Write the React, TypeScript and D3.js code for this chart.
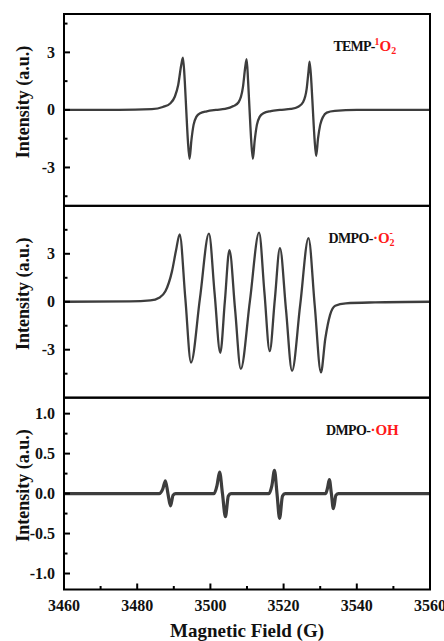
import React from "react";
import * as d3 from "d3";

// ---------- data ----------
const fieldDomain = [3460, 3560];
const fieldTicks = [3460, 3480, 3500, 3520, 3540, 3560];
const fieldMinorTicks = [3470, 3490, 3510, 3530, 3550];

// TEMP-1O2 spectrum
const tempField = [
  3460, 3475, 3484, 3487, 3489.1, 3490.3, 3491.2, 3492, 3492.5, 3493.0, 3493.4, 3493.85, 3494.3, 3494.8, 3495.4, 3496.2, 3497.2, 3499, 3501.5,
  3504, 3506.3, 3507.7, 3508.9, 3509.5, 3509.9, 3510.3, 3510.7, 3511.15, 3511.6, 3512.1, 3512.7, 3513.5, 3514.5, 3516.5, 3519,
  3522, 3524, 3525.3, 3526.3, 3526.8, 3527.1, 3527.6, 3528.0, 3528.45, 3528.9, 3529.4, 3530.0, 3530.8, 3531.8, 3534, 3540, 3560,
];
const tempIntensity = [
  0, 0, 0.04, 0.15, 0.35, 0.7, 1.3, 2.3, 2.72, 1.5, 0, -1.6, -2.55, -1.6, -0.78, -0.35, -0.17, -0.07, 0,
  0.05, 0.2, 0.4, 1.2, 2.2, 2.64, 1.5, 0, -1.6, -2.55, -1.6, -0.78, -0.35, -0.17, -0.06, 0,
  0.05, 0.17, 0.4, 1.1, 2.0, 2.52, 1.4, 0, -1.5, -2.4, -1.5, -0.78, -0.35, -0.14, -0.05, 0, 0,
];

// DMPO-·O2− spectrum
const o2Field = [
  3460, 3478, 3483.6, 3486, 3487.7, 3489.5, 3490.6, 3491.6,
  3493.15, 3494.7, 3497.15, 3499.6, 3501.15, 3502.7, 3503.95, 3505.2, 3506.75, 3508.3,
  3510.8, 3513.3, 3514.75, 3516.2, 3517.6, 3519.0, 3520.65, 3522.3, 3524.55, 3526.8, 3528.5, 3530.2,
  3531.4, 3532.7, 3534.1, 3537, 3545, 3560,
];
const o2Intensity = [
  0, 0.02, 0.08, 0.25, 0.65, 1.9, 3.2, 4.22,
  0.21, -3.8, 0.23, 4.26, 0.53, -3.19, 0.02, 3.23, -0.49, -4.2,
  0.06, 4.32, 0.62, -3.09, 0.14, 3.36, -0.48, -4.32, -0.17, 3.98, -0.22, -4.42,
  -2.3, -0.82, -0.25, -0.1, -0.04, 0,
];

// DMPO-·OH spectrum
const ohField = [
  3460, 3486, 3487, 3487.7, 3488.4, 3489.1, 3489.8, 3490.5,
  3501, 3501.8, 3502.5, 3503.3, 3504.1, 3504.9, 3505.6,
  3516, 3516.8, 3517.5, 3518.2, 3518.9, 3519.7, 3520.4,
  3531.5, 3532, 3532.5, 3533.05, 3533.6, 3534.3, 3535, 3560,
];
const ohIntensity = [
  0, 0, 0.06, 0.16, 0, -0.155, -0.02, 0,
  0, 0.1, 0.27, 0, -0.29, -0.03, 0,
  0, 0.1, 0.29, 0, -0.31, -0.03, 0,
  0, 0.07, 0.175, 0, -0.19, -0.02, 0, 0,
];

const tempYDomain = [-5, 5];
const tempYTicks = [-3, 0, 3];
const tempYMinor = [-4.5, -1.5, 1.5, 4.5];
const o2YDomain = [-6, 6];
const o2YTicks = [-3, 0, 3];
const o2YMinor = [-4.5, -1.5, 1.5, 4.5];
const ohYDomain = [-1.2, 1.2];
const ohYTicks = [-1.0, -0.5, 0.0, 0.5, 1.0];
const ohYMinor = [-0.75, -0.25, 0.25, 0.75];

// ---------- layout ----------
const W = 444;
const H = 641;
const left = 64;
const right = 430;
const top = 14;
const bottom = 589.5;
const panelH = (bottom - top) / 3;
const FONT = "'Liberation Serif', 'Times New Roman', serif";
const LINE = "#3d3d3d";
const RED = "#ff1a1a";

type Panel = {
  key: string;
  field: number[];
  values: number[];
  yDomain: number[];
  yTicks: number[];
  yMinor: number[];
  fmt: (v: number) => string;
  stroke: number;
};

const panels: Panel[] = [
  { key: "temp", field: tempField, values: tempIntensity, yDomain: tempYDomain, yTicks: tempYTicks, yMinor: tempYMinor, fmt: (v) => String(v), stroke: 2.3 },
  { key: "o2", field: o2Field, values: o2Intensity, yDomain: o2YDomain, yTicks: o2YTicks, yMinor: o2YMinor, fmt: (v) => String(v), stroke: 2.3 },
  { key: "oh", field: ohField, values: ohIntensity, yDomain: ohYDomain, yTicks: ohYTicks, yMinor: ohYMinor, fmt: (v) => v.toFixed(1), stroke: 3.2 },
];

function PanelLabel({ idx, y }: { idx: number; y: number }) {
  const common = { fontFamily: FONT, fontWeight: 700 as const, fontSize: 14 };
  if (idx === 0) {
    return (
      <text x={333.5} y={y} {...common} fill="#111" letterSpacing={-0.8}>
        TEMP-
        <tspan fill={RED} fontSize={10} dy={-6} letterSpacing={0}>1</tspan>
        <tspan fill={RED} fontSize={15} dy={6} letterSpacing={0}>O</tspan>
        <tspan fill={RED} fontSize={10} dy={3} letterSpacing={0}>2</tspan>
      </text>
    );
  }
  if (idx === 1) {
    return (
      <text x={328.5} y={y} {...common} fill="#111" letterSpacing={-0.6}>
        DMPO-
        <tspan fill={RED} fontSize={15} letterSpacing={0}>·O</tspan>
        <tspan fill={RED} fontSize={10} dy={3} letterSpacing={0}>2</tspan>
        <tspan fill={RED} fontSize={10} dx={-5} dy={-10} letterSpacing={0}>-</tspan>
      </text>
    );
  }
  return (
    <text x={326} y={y} {...common} fill="#111" letterSpacing={-0.6}>
      DMPO-
      <tspan fill={RED} fontSize={15} letterSpacing={0}>·OH</tspan>
    </text>
  );
}

export default function App() {
  const x = d3.scaleLinear().domain(fieldDomain).range([left, right]);

  return (
    <svg width={W} height={H} style={{ position: "absolute", left: 0, top: 0, background: "#fff" }}>
      <defs>
        {panels.map((p, i) => (
          <clipPath id={`clip-${p.key}`} key={p.key}>
            <rect x={left} y={top + i * panelH} width={right - left} height={panelH} />
          </clipPath>
        ))}
      </defs>
      {panels.map((p, i) => {
        const y0 = top + i * panelH;
        const y1 = y0 + panelH;
        const y = d3.scaleLinear().domain(p.yDomain).range([y1, y0]);
        const pts = p.field.map((f, k) => [f, p.values[k]] as [number, number]);
        const line = d3
          .line<[number, number]>()
          .x((d) => x(d[0]))
          .y((d) => y(d[1]))
          .curve(d3.curveMonotoneX);
        const mid = (y0 + y1) / 2;
        return (
          <g key={p.key}>
            <path d={line(pts) || ""} fill="none" stroke={LINE} strokeWidth={p.stroke} strokeLinejoin="round" clipPath={`url(#clip-${p.key})`} />
            {p.yTicks.map((t) => (
              <g key={`t${t}`}>
                <line x1={left} x2={left + 6} y1={y(t)} y2={y(t)} stroke="#000" strokeWidth={2} />
                <text x={55} y={y(t)} dy="0.34em" textAnchor="end" fontFamily={FONT} fontWeight={700} fontSize={16} fill="#111">
                  {p.fmt(t)}
                </text>
              </g>
            ))}
            {p.yMinor.map((t) => (
              <line key={`m${t}`} x1={left} x2={left + 3.5} y1={y(t)} y2={y(t)} stroke="#000" strokeWidth={2} />
            ))}
            <rect x={left} y={y0} width={right - left} height={panelH} fill="none" stroke="#000" strokeWidth={2} />
            <text
              transform={`translate(29,${mid - 8}) rotate(-90)`}
              textAnchor="middle"
              fontFamily={FONT}
              fontWeight={700}
              fontSize={18}
              fill="#111"
            >
              Intensity (a.u.)
            </text>
            <PanelLabel idx={i} y={y0 + 37} />
          </g>
        );
      })}
      {fieldTicks.map((t) => (
        <g key={`x${t}`}>
          <line x1={x(t)} x2={x(t)} y1={bottom} y2={bottom - 6} stroke="#000" strokeWidth={2} />
          <text x={x(t)} y={611} textAnchor="middle" fontFamily={FONT} fontWeight={700} fontSize={16} fill="#111">
            {t}
          </text>
        </g>
      ))}
      {fieldMinorTicks.map((t) => (
        <line key={`xm${t}`} x1={x(t)} x2={x(t)} y1={bottom} y2={bottom - 3.5} stroke="#000" strokeWidth={2} />
      ))}
      <text x={(left + right) / 2} y={637} textAnchor="middle" fontFamily={FONT} fontWeight={700} fontSize={19} fill="#111">
        Magnetic Field (G)
      </text>
    </svg>
  );
}
